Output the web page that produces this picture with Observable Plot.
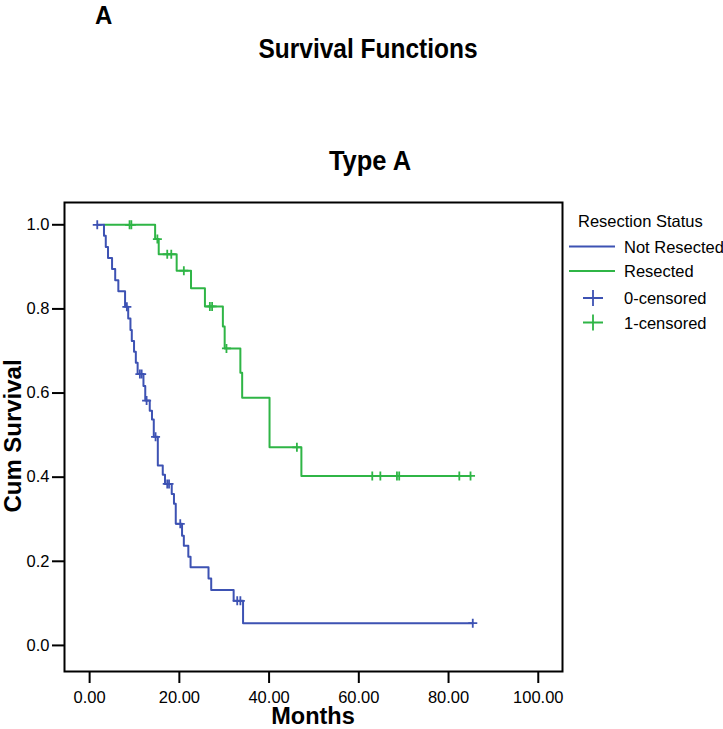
<!DOCTYPE html>
<html><head><meta charset="utf-8">
<script src="https://cdn.jsdelivr.net/npm/d3@7"></script>
<script src="https://cdn.jsdelivr.net/npm/@observablehq/plot@0.6"></script>
<style>
body{margin:0;background:#fff}
#chart{width:723px;height:729px}
</style></head><body>
<div id="chart"></div>
<script>
// Kaplan-Meier step data
const notResectedTime = [1.7, 3.2, 3.6, 4.1, 5.0, 5.7, 6.4, 7.9, 8.6, 9.1, 9.4, 9.9, 10.3, 10.7, 12.0, 12.4, 13.4, 13.9, 14.3, 15.2, 16.3, 16.8, 18.3, 18.8, 19.2, 20.6, 21.0, 22.0, 22.5, 26.5, 27.1, 32.1, 34.2, 85.4];
const notResectedSurv = [1.0, 0.974, 0.947, 0.921, 0.895, 0.868, 0.842, 0.805, 0.777, 0.750, 0.724, 0.698, 0.672, 0.645, 0.617, 0.582, 0.558, 0.537, 0.496, 0.428, 0.406, 0.384, 0.360, 0.337, 0.289, 0.261, 0.237, 0.211, 0.186, 0.159, 0.132, 0.106, 0.053, 0.053];
const notResectedCensTime = [1.7, 8.3, 11.2, 11.6, 12.7, 14.7, 17.3, 17.7, 20.2, 32.9, 33.6, 85.4];
const notResectedCensSurv = [1.0, 0.805, 0.645, 0.645, 0.582, 0.496, 0.384, 0.384, 0.289, 0.106, 0.106, 0.053];

const resectedTime = [3.2, 14.6, 15.4, 19.4, 22.6, 25.7, 29.7, 30.1, 33.6, 34.0, 40.1, 47.2, 84.9];
const resectedSurv = [1.0, 0.966, 0.930, 0.891, 0.849, 0.806, 0.758, 0.706, 0.648, 0.589, 0.471, 0.403, 0.403];
const resectedCensTime = [8.9, 9.3, 15.1, 17.3, 18.2, 21.0, 26.8, 27.3, 30.5, 46.2, 63.0, 64.8, 68.5, 69.0, 82.4, 84.9];
const resectedCensSurv = [1.0, 1.0, 0.966, 0.930, 0.930, 0.891, 0.806, 0.806, 0.706, 0.471, 0.403, 0.403, 0.403, 0.403, 0.403, 0.403];

const xTicks = [0, 20, 40, 60, 80, 100];
const yTicks = [0, 0.2, 0.4, 0.6, 0.8, 1.0];
const groups = ["Not Resected", "Resected"];
const censorLabels = ["0-censored", "1-censored"];

const BLUE = "#3d52b3", GREEN = "#2fb546";
const FONT = "'Liberation Sans', Arial, Helvetica, sans-serif";

const zip = (t, s) => t.map((d, i) => ({t: d, s: s[i]}));
const blueLine = zip(notResectedTime, notResectedSurv);
const greenLine = zip(resectedTime, resectedSurv);
const blueCens = zip(notResectedCensTime, notResectedCensSurv);
const greenCens = zip(resectedCensTime, resectedCensSurv);

const plusSymbol = {
  draw(ctx, size) {
    const r = Math.sqrt(size / Math.PI);
    ctx.moveTo(-r, 0); ctx.lineTo(r, 0);
    ctx.moveTo(0, -r); ctx.lineTo(0, r);
  }
};

const svg = Plot.plot({
  width: 723, height: 729,
  marginLeft: 64, marginRight: 161, marginTop: 202, marginBottom: 58,
  x: {domain: [-5.6, 105.4]},
  y: {domain: [-0.062, 1.053]},
  style: {fontFamily: FONT, fontSize: "16px", color: "#000", background: "#fff", overflow: "visible"},
  marks: [
    Plot.axisX({ticks: xTicks, tickFormat: d => d.toFixed(2), tickSize: 12, tickPadding: 8, strokeWidth: 2, label: null, fontSize: 16.5}),
    Plot.axisY({ticks: yTicks, tickFormat: d => d.toFixed(1), tickSize: 12, tickPadding: 3, strokeWidth: 2, label: null, fontSize: 16.5}),
    Plot.line(greenLine, {x: "t", y: "s", curve: "step-after", stroke: GREEN, strokeWidth: 2}),
    Plot.line(blueLine, {x: "t", y: "s", curve: "step-after", stroke: BLUE, strokeWidth: 2}),
    Plot.dot(greenCens, {x: "t", y: "s", symbol: plusSymbol, r: 4.5, fill: "none", stroke: GREEN, strokeWidth: 1.8}),
    Plot.dot(blueCens, {x: "t", y: "s", symbol: plusSymbol, r: 4.5, fill: "none", stroke: BLUE, strokeWidth: 1.8}),
    Plot.frame({stroke: "#000", strokeWidth: 2})
  ]
});

const s = d3.select(svg);
const txt = (x, y, str, opts = {}) => s.append("text")
  .attr("transform", `translate(${x},${y})${opts.rotate ? " rotate(" + opts.rotate + ")" : ""} scale(${opts.sx || 1},${opts.sy || 1})`)
  .attr("font-family", FONT)
  .attr("font-size", opts.size || 16.5)
  .attr("font-weight", opts.bold ? "bold" : "normal")
  .attr("text-anchor", opts.anchor || "start")
  .attr("fill", "#000")
  .text(str);

txt(95, 24, "A", {size: 24, bold: true, sy: 1.1});
txt(368, 58, "Survival Functions", {size: 24.5, bold: true, anchor: "middle", sy: 1.1});
txt(370, 170, "Type A", {size: 25.5, bold: true, anchor: "middle", sy: 1.1});
txt(313, 724, "Months", {size: 23.5, bold: true, anchor: "middle"});
txt(21, 436, "Cum Survival", {size: 23.5, bold: true, anchor: "middle", rotate: -90, sx: 1.02});

// legend
txt(578, 227, "Resection Status");
const lineColors = [BLUE, GREEN];
groups.forEach((g, i) => {
  const y = 246.5 + i * 24.5;
  s.append("line").attr("x1", 569).attr("x2", 615).attr("y1", y).attr("y2", y)
    .attr("stroke", lineColors[i]).attr("stroke-width", 2);
  txt(624, y + 6, g);
});
censorLabels.forEach((g, i) => {
  const y = 298 + i * 24.5;
  s.append("path").attr("d", `M${583},${y}h20M${593},${y - 8}v16`)
    .attr("stroke", lineColors[i]).attr("stroke-width", 1.8).attr("fill", "none");
  txt(624, y + 6, g);
});

document.getElementById("chart").appendChild(svg);
</script>
</body></html>
